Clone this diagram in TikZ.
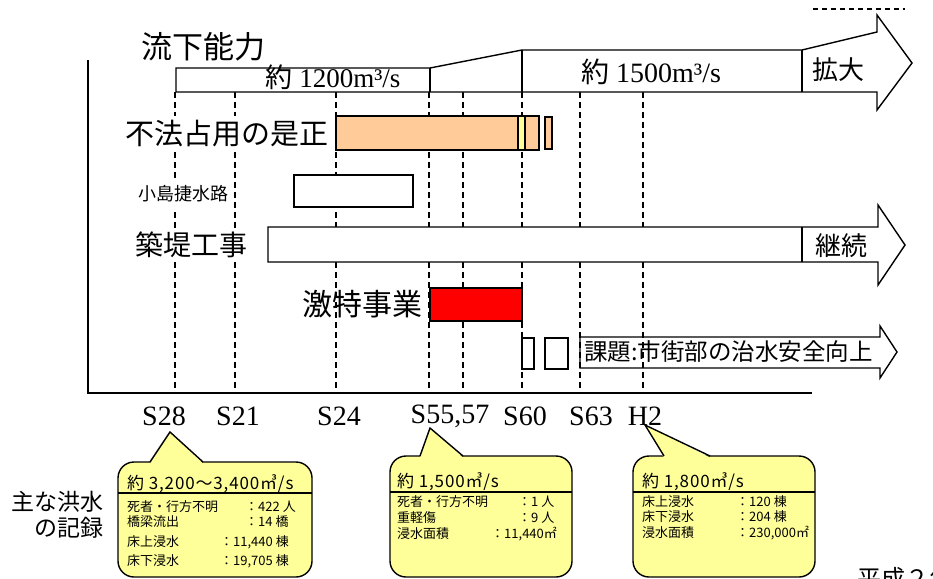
\documentclass[tikz,border=0pt]{standalone}
\usepackage{fontspec}
\newfontfamily\jp{Noto Sans CJK JP}
\newfontfamily\jpw[LetterSpace=5]{Noto Sans CJK JP}
\newfontfamily\serifx{Liberation Serif}
\definecolor{orng}{HTML}{FFCC99}
\definecolor{lyel}{HTML}{FFFF99}
\definecolor{redx}{HTML}{FF0000}
\newcommand\myfs[1]{\fontsize{#1}{#1}\selectfont}
\begin{document}
\begin{tikzpicture}[x=1pt,y=-1pt,
  ln/.style={line width=1.4pt,line join=miter},
  dsh/.style={line width=1.2pt,dash pattern=on 6pt off 4pt},
  bigjp/.style={font=\jp\myfs{29},inner sep=0pt},
  lbl/.style={font=\jp\myfs{29},fill=white,inner xsep=0pt,inner ysep=5pt},
  serif/.style={font=\serifx\myfs{27},inner sep=0pt},
  yr/.style={font=\serifx\myfs{28},inner sep=0pt},
  hdr/.style={font=\jpw\myfs{17},inner sep=0pt,anchor=west},
  row/.style={font=\jp\myfs{13},inner sep=0pt,anchor=west},
  call/.style={ln,fill=lyel,rounded corners=16pt},
  bar/.style={line width=2pt,fill=orng}]
\useasboundingbox (0,0) rectangle (933,578);
\clip (0,0) rectangle (933,578);

% dashed year lines
\foreach \x/\n in {175/a,235/b,336/c,429/d,463/e,522/f,580/g,643/h}{
  \coordinate (top\n) at (\x,92);
  \coordinate (bot\n) at (\x,393);
  \draw[dsh] (top\n) -- (bot\n);
}

% axes
\coordinate (ax0) at (88,60);
\coordinate (ax1) at (88,393);
\coordinate (ax2) at (812,393);
\draw[line width=1.6pt] (ax0) -- (ax1) -- (ax2);

% fragment at top right
\draw[line width=1.2pt,dash pattern=on 5pt off 4pt] (813,9) -- (905,9);

% flow capacity arrow
\draw[ln,fill=white] (176,92) -- (176,68) -- (430,68) -- (522,50) -- (802,50) -- (877,32)
  -- (877,15) -- (912,63) -- (877,110) -- (877,92) -- cycle;
\draw[ln] (430,68) -- (430,92) (522,50) -- (522,92) (802,50) -- (802,92);
\node[bigjp,font=\jp\myfs{31}] (ryu) at (203,47) {流下能力};
\node[serif] (q1) at (333,77) {{\jp 約} 1200m³/s};
\node[serif,font=\serifx\myfs{28}] (q2) at (651,72) {{\jp 約} 1500m³/s};
\node[bigjp,font=\jp\myfs{26}] (kakudai) at (838,70) {拡大};

% illegal occupation
\node[lbl] (fuho) at (227,134) {不法占用の是正};
\draw[bar] (336,116) rectangle (518,150);
\draw[line width=1.4pt,fill=lyel] (518,116) rectangle (525,150);
\draw[bar] (525,116) rectangle (539,150);
\draw[line width=1.2pt,fill=orng] (545,117) rectangle (552,149);

% kojima channel
\node[lbl,font=\jp\myfs{18},inner ysep=8pt] (kojima) at (183,194) {小島捷水路};
\draw[ln,fill=white] (294,175) rectangle (413,207);

% levee works arrow
\node[lbl,font=\jp\myfs{28},inner ysep=4pt] (chikutei) at (191,245) {築堤工事};
\draw[ln,fill=white] (268,227) -- (878,227) -- (878,205) -- (905,245) -- (878,285) -- (878,262) -- (268,262) -- cycle;
\draw[ln] (802,227) -- (802,262);
\node[bigjp,font=\jp\myfs{26}] (keizoku) at (841,246) {継続};

% gekitoku
\node[bigjp,font=\jp\myfs{30}] (geki) at (362,304) {激特事業};
\draw[ln,fill=redx] (430,288) rectangle (522,321);

% issue arrow
\draw[ln] (522,338) rectangle (534,369);
\draw[ln] (545,338) rectangle (568,369);
\draw[ln] (580,337) -- (880,337) -- (880,326) -- (897,352) -- (880,378) -- (880,368) -- (580,368) -- cycle;
\node[bigjp,font=\jp\myfs{23.5},anchor=west] (kadai) at (584,352) {課題:市街部の治水安全向上};

% year labels
\node[yr] (s28) at (164,416) {S28};
\node[yr] (s21) at (238,416) {S21};
\node[yr] (s24) at (339,416) {S24};
\node[yr] (s55) at (450,416) {S55,57};
\node[yr] (s60) at (525,416) {S60};
\node[yr] (s63) at (591,416) {S63};
\node[yr] (h2) at (645,416) {H2};

% left label
\node[font=\jp\myfs{23},align=right,anchor=east,inner sep=0pt] (shuna) at (104,515) {主な洪水\\[3pt]の記録};

% callout 1
\coordinate (t1) at (170,432);
\draw[call] (118,462) rectangle (312,577);
\fill[lyel] (150,463.6) -- (t1) -- (203,463.6) -- cycle;
\draw[ln] (150,462) -- (t1) -- (203,462);
\draw[ln] (118,493) -- (312,493);
\node[hdr] (h1) at (127,484) {約 3,200～3,400㎥/s};
\node[row] (r11) at (127,507) {死者・行方不明};
\node[row] (v11) at (245,507) {：422 人};
\node[row] (r12) at (127,522) {橋梁流出};
\node[row] (v12) at (245,522) {：14 橋};
\node[row] (r13) at (127,542) {床上浸水};
\node[row] (v13) at (220,542) {：11,440 棟};
\node[row] (r14) at (127,561) {床下浸水};
\node[row] (v14) at (220,561) {：19,705 棟};

% callout 2
\coordinate (t2) at (430,428);
\draw[call] (390,456) rectangle (572,577);
\fill[lyel] (420,457.6) -- (t2) -- (463,457.6) -- cycle;
\draw[ln] (420,456) -- (t2) -- (463,456);
\draw[ln] (390,492) -- (572,492);
\node[hdr] (h2b) at (397,482) {約 1,500㎥/s};
\node[row] (r21) at (397,502) {死者・行方不明};
\node[row] (v21) at (518,502) {：1 人};
\node[row] (r22) at (397,518) {重軽傷};
\node[row] (v22) at (518,518) {：9 人};
\node[row] (r23) at (397,534) {浸水面積};
\node[row] (v23) at (491,534) {：11,440㎡};

% callout 3
\coordinate (t3) at (645,425);
\draw[call] (633,456) rectangle (815,577);
\fill[lyel] (664,457.6) -- (t3) -- (710,457.6) -- cycle;
\draw[ln] (664,456) -- (t3) -- (710,456);
\draw[ln] (633,492) -- (815,492);
\node[hdr] (h3) at (642,482) {約 1,800㎥/s};
\node[row] (r31) at (642,502) {床上浸水};
\node[row] (v31) at (736,502) {：120 棟};
\node[row] (r32) at (642,517) {床下浸水};
\node[row] (v32) at (736,517) {：204 棟};
\node[row] (r33) at (642,533) {浸水面積};
\node[row] (v33) at (736,533) {：230,000㎡};

% cut-off text bottom right
\node[font=\jp\myfs{24},inner sep=0pt,anchor=west] (heisei) at (857,578) {平成２年};
\end{tikzpicture}
\end{document}
